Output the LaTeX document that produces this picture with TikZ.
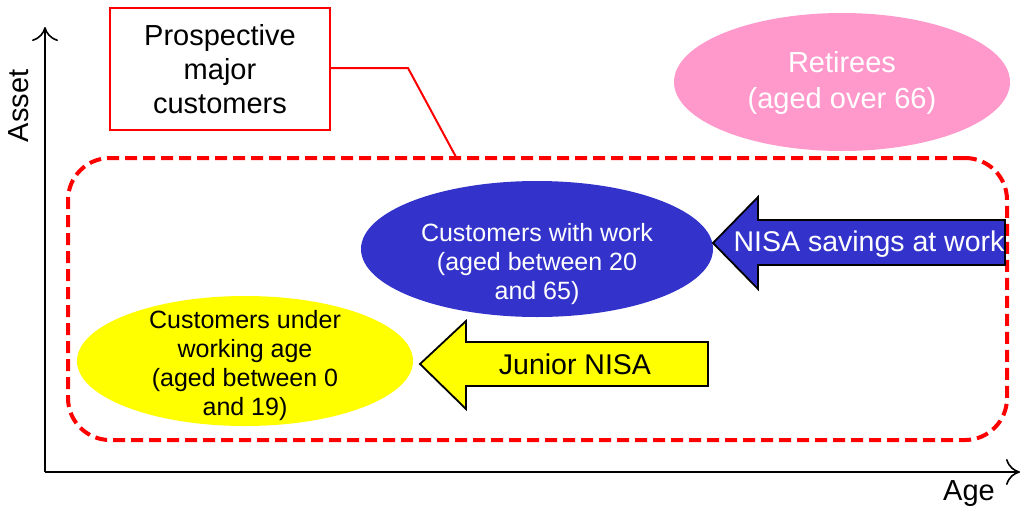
\documentclass[tikz,border=0pt]{standalone}
\usepackage{fontspec}
\setmainfont{Liberation Sans}
\usetikzlibrary{shapes.geometric,arrows.meta}
\definecolor{callred}{RGB}{255,0,0}
\definecolor{retpink}{RGB}{255,153,204}
\definecolor{workblue}{RGB}{51,51,204}
\definecolor{kidyellow}{RGB}{255,255,0}
\tikzset{
  axis/.style={line width=1.6pt,-{To[length=14pt,width=26pt,line width=1.6pt]}},
  group/.style={ellipse,inner sep=0pt},
  grouptext/.style={align=center,inner sep=0pt,font=\fontsize{25}{29}\selectfont},
  bigarrow/.style={draw=black,line width=1.8pt,line join=miter},
  arrowtext/.style={font=\fontsize{28.5}{32}\selectfont,inner sep=0pt},
  label/.style={font=\fontsize{29}{34}\selectfont},
}
\begin{document}
\begin{tikzpicture}[x=1pt,y=-1pt]
\useasboundingbox (0,0) rectangle (1022,509);

% axes
\coordinate (origin) at (45,472);
\coordinate (ytop) at (45,27);
\coordinate (xend) at (1020,472);
\draw[axis] (origin) -- (ytop);
\draw[axis] (origin) -- (xend);
\node[label,rotate=90] (asset) at (19,106) {Asset};
\node[label] (age) at (969,494) {Age};

% group of prospective customers
\node[draw=callred,line width=4pt,dash pattern=on 12pt off 6pt,rounded corners=42pt,
      minimum width=939pt,minimum height=282pt] (zone) at (537.5,299) {};

% callout box
\node[label,draw=callred,line width=2pt,minimum width=220pt,minimum height=122pt,align=center]
  (prosp) at (220,69) {Prospective\\major\\customers};
\coordinate (bend) at (408,68);
\coordinate (hook) at (456,157);
\draw[callred,line width=2pt] (prosp.east |- bend) -- (bend) -- (hook);

% retirees
\node[group,fill=retpink,minimum width=336pt,minimum height=138pt] (retire) at (842,82) {};
\node[grouptext,text=white,font=\fontsize{29}{36}\selectfont] (retiretext) at (842,83)
  {Retirees\\(aged over 66)};

% working customers
\node[group,fill=workblue,minimum width=352pt,minimum height=136pt] (work) at (537,249) {};
\node[grouptext,text=white] (worktext) at (537,264)
  {Customers with work\\(aged between 20\\and 65)};

% young customers
\node[group,fill=kidyellow,minimum width=336pt,minimum height=130pt] (young) at (245,361) {};
\node[grouptext,text=black] (youngtext) at (245,366)
  {Customers under\\working age\\(aged between 0\\and 19)};

% NISA savings arrow
\draw[bigarrow,fill=workblue] (713,243) -- (758,197) -- (758,220) -- (1005,220) -- (1005,265)
  -- (758,265) -- (758,289) -- cycle;
\node[arrowtext,text=white] (nisa) at (869,244) {NISA savings at work};

% Junior NISA arrow
\draw[bigarrow,fill=kidyellow] (420,364) -- (466,321) -- (466,342) -- (708,342) -- (708,386)
  -- (466,386) -- (466,409) -- cycle;
\node[arrowtext,text=black] (junior) at (575,364) {Junior NISA};
\end{tikzpicture}
\end{document}
